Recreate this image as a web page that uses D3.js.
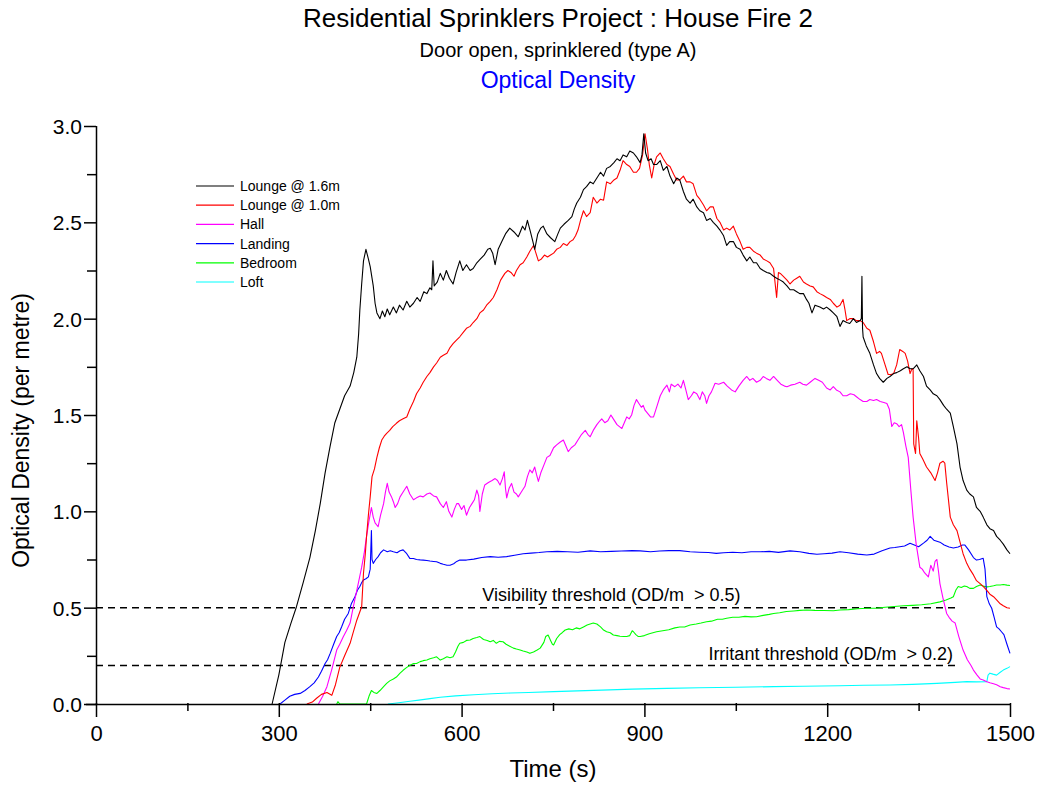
<!DOCTYPE html>
<html lang="en">
<head>
  <meta charset="UTF-8" />
  <title>Residential Sprinklers Project : House Fire 2</title>
  <script src="https://d3js.org/d3.v7.min.js"></script>
  <style>
    body {
      margin: 0;
      padding: 0;
      background: #fff;
      font-family: Arial, "Liberation Sans", sans-serif;
    }
    svg {
      display: block;
    }
    .axis path, .axis line {
      stroke: #000;
      stroke-width: 1.5;
    }
    .axis text {
      font-family: Arial, "Liberation Sans", sans-serif;
      fill: #000;
    }
    .thr-label {
      white-space: pre;
    }
  </style>
</head>
<body>
  <svg width="1044" height="785"></svg>

  <script>
    // readings taken off the original plot : [time (s), OD (per metre)]
    const lounge16 = [[289,0],[300,0.15],[310,0.32],[320,0.42],[329,0.505],[340,0.63],[351,0.76],[360,0.9],[368,1.04],[376,1.2],[384,1.335],[392,1.46],[400,1.53],[408,1.6],[417,1.65],[423,1.72],[428,1.80],[431,1.92],[433,2.045],[436,2.18],[439,2.30],[443,2.36],[447,2.31],[450,2.27],[455,2.17],[458,2.08],[461,2.03],[466,2.00],[470,2.04],[474,2.01],[478,2.05],[482,2.02],[488,2.06],[493,2.03],[498,2.07],[504,2.045],[510,2.09],[515,2.06],[521,2.08],[527,2.11],[532,2.09],[538,2.14],[543,2.13],[548,2.16],[551,2.15],[553,2.30],[555,2.17],[560,2.19],[565,2.235],[570,2.2],[575,2.25],[580,2.21],[586,2.18],[591,2.24],[597,2.30],[602,2.25],[608,2.28],[614,2.25],[619,2.26],[625,2.29],[631,2.31],[637,2.33],[643,2.36],[647,2.365],[651,2.34],[655,2.28],[660,2.36],[666,2.40],[672,2.44],[679,2.47],[686,2.45],[693,2.425],[700,2.48],[704,2.46],[708,2.51],[713,2.45],[717,2.40],[720,2.36],[725,2.44],[730,2.47],[734,2.48],[740,2.44],[746,2.42],[753,2.40],[758,2.44],[762,2.47],[768,2.49],[775,2.51],[781,2.53],[785,2.57],[789,2.60],[795,2.63],[800,2.67],[805,2.685],[811,2.71],[816,2.70],[822,2.73],[828,2.76],[833,2.74],[838,2.78],[844,2.79],[850,2.81],[855,2.83],[860,2.82],[865,2.85],[871,2.84],[876,2.87],[882,2.86],[887,2.84],[893,2.81],[896,2.85],[899,2.96],[902,2.86],[906,2.82],[911,2.83],[915,2.80],[920,2.80],[926,2.82],[931,2.77],[937,2.79],[942,2.74],[948,2.70],[953,2.73],[958,2.72],[964,2.66],[969,2.62],[975,2.60],[980,2.62],[986,2.58],[991,2.56],[997,2.55],[1002,2.51],[1008,2.52],[1013,2.50],[1019,2.48],[1024,2.46],[1030,2.43],[1035,2.38],[1040,2.40],[1046,2.40],[1051,2.37],[1057,2.36],[1062,2.33],[1068,2.30],[1073,2.32],[1079,2.29],[1084,2.29],[1090,2.26],[1095,2.25],[1101,2.24],[1106,2.235],[1112,2.22],[1117,2.21],[1123,2.20],[1128,2.19],[1134,2.17],[1139,2.15],[1145,2.15],[1150,2.14],[1155,2.13],[1161,2.13],[1166,2.10],[1170,2.08],[1175,2.03],[1180,2.07],[1188,2.06],[1194,2.05],[1199,2.06],[1205,2.045],[1210,2.03],[1216,2.01],[1221,1.96],[1226,1.99],[1232,1.98],[1237,1.975],[1243,2.0],[1248,1.98],[1254,1.99],[1256,2.00],[1257,2.22],[1258,1.95],[1259,1.905],[1264,1.86],[1270,1.82],[1276,1.76],[1281,1.715],[1286,1.69],[1292,1.67],[1298,1.69],[1303,1.70],[1309,1.715],[1314,1.72],[1320,1.73],[1325,1.74],[1331,1.75],[1336,1.74],[1341,1.74],[1347,1.76],[1352,1.73],[1358,1.70],[1363,1.65],[1369,1.63],[1374,1.61],[1380,1.60],[1385,1.58],[1391,1.55],[1396,1.53],[1402,1.51],[1407,1.44],[1413,1.35],[1418,1.23],[1423,1.16],[1429,1.11],[1434,1.09],[1440,1.075],[1445,1.02],[1451,1.0],[1456,0.97],[1462,0.93],[1467,0.91],[1473,0.90],[1478,0.87],[1484,0.85],[1489,0.83],[1495,0.80],[1500,0.78]];

    const lounge10 = [[346,0],[355,0.01],[362,0.03],[370,0.05],[379,0.06],[387,0.045],[393,0.10],[400,0.19],[408,0.25],[417,0.315],[422,0.37],[428,0.435],[432,0.47],[436,0.505],[439,0.68],[442,0.78],[444,0.87],[447,0.98],[450,1.075],[453,1.18],[457,1.22],[461,1.28],[465,1.33],[469,1.37],[473,1.39],[477,1.405],[482,1.42],[487,1.44],[493,1.457],[498,1.47],[504,1.48],[510,1.49],[515,1.53],[521,1.57],[526,1.61],[532,1.64],[537,1.67],[543,1.70],[548,1.72],[554,1.75],[559,1.77],[565,1.80],[570,1.81],[576,1.82],[581,1.85],[586,1.87],[592,1.89],[597,1.906],[603,1.93],[608,1.95],[614,1.96],[619,1.98],[625,2.0],[630,2.03],[636,2.045],[641,2.07],[647,2.09],[652,2.11],[658,2.15],[664,2.2],[671,2.235],[676,2.25],[681,2.24],[686,2.22],[690,2.25],[696,2.28],[701,2.29],[707,2.32],[712,2.35],[718,2.38],[722,2.34],[726,2.30],[731,2.31],[736,2.33],[741,2.32],[746,2.33],[751,2.34],[756,2.36],[762,2.37],[767,2.39],[773,2.38],[778,2.40],[783,2.41],[787,2.43],[791,2.46],[796,2.52],[800,2.56],[805,2.53],[811,2.55],[816,2.63],[822,2.60],[828,2.62],[833,2.615],[838,2.71],[844,2.70],[850,2.72],[855,2.73],[860,2.77],[865,2.82],[871,2.80],[876,2.79],[882,2.76],[887,2.76],[892,2.78],[897,2.85],[901,2.96],[905,2.88],[908,2.80],[912,2.73],[916,2.80],[920,2.84],[926,2.86],[931,2.83],[937,2.80],[942,2.79],[948,2.75],[953,2.72],[958,2.72],[964,2.74],[969,2.71],[975,2.71],[980,2.70],[986,2.64],[991,2.62],[997,2.59],[1002,2.56],[1008,2.58],[1013,2.58],[1019,2.52],[1024,2.50],[1030,2.46],[1035,2.47],[1040,2.46],[1046,2.48],[1051,2.44],[1057,2.40],[1062,2.36],[1068,2.37],[1073,2.37],[1079,2.35],[1084,2.34],[1090,2.33],[1095,2.31],[1101,2.30],[1106,2.29],[1112,2.26],[1117,2.11],[1120,2.24],[1123,2.235],[1128,2.22],[1134,2.20],[1139,2.18],[1145,2.20],[1150,2.21],[1155,2.22],[1161,2.19],[1166,2.18],[1172,2.17],[1177,2.165],[1183,2.14],[1188,2.13],[1194,2.12],[1199,2.11],[1205,2.10],[1210,2.08],[1216,2.06],[1221,2.07],[1226,2.10],[1229,2.05],[1232,1.99],[1237,2.0],[1243,2.0],[1248,1.99],[1254,1.99],[1259,1.98],[1265,1.95],[1270,1.94],[1276,1.88],[1281,1.82],[1286,1.83],[1289,1.82],[1295,1.76],[1300,1.71],[1305,1.71],[1309,1.715],[1314,1.76],[1319,1.84],[1324,1.83],[1328,1.82],[1332,1.78],[1336,1.715],[1339,1.74],[1341,1.735],[1342,1.35],[1345,1.30],[1347,1.47],[1350,1.38],[1352,1.30],[1357,1.27],[1363,1.23],[1370,1.20],[1377,1.16],[1381,1.20],[1385,1.25],[1390,1.26],[1393,1.25],[1396,1.15],[1402,0.97],[1407,0.93],[1413,0.90],[1418,0.84],[1423,0.78],[1429,0.73],[1434,0.70],[1440,0.67],[1445,0.64],[1451,0.625],[1456,0.61],[1462,0.59],[1467,0.57],[1473,0.557],[1478,0.54],[1484,0.52],[1489,0.51],[1495,0.50],[1500,0.497]];

    const hall = [[365,0],[372,0.04],[379,0.09],[387,0.18],[395,0.28],[400,0.31],[406,0.35],[411,0.38],[417,0.42],[422,0.50],[428,0.59],[432,0.65],[436,0.71],[440,0.78],[444,0.87],[448,0.95],[452,1.02],[455,0.97],[458,0.94],[463,0.92],[467,0.98],[472,1.04],[475,1.10],[478,1.145],[481,1.10],[485,1.075],[488,1.05],[491,1.02],[495,1.04],[499,1.075],[504,1.10],[510,1.13],[515,1.09],[521,1.06],[526,1.07],[532,1.08],[537,1.075],[543,1.09],[548,1.095],[554,1.08],[559,1.075],[565,1.04],[570,1.02],[575,1.05],[579,1.00],[584,0.97],[588,1.01],[592,1.04],[595,1.04],[600,1.01],[604,1.03],[608,0.98],[613,1.02],[617,1.04],[621,1.06],[625,1.11],[628,1.08],[630,1.00],[634,1.09],[638,1.137],[644,1.15],[650,1.16],[655,1.17],[659,1.16],[663,1.137],[667,1.17],[670,1.205],[672,1.12],[674,1.07],[678,1.12],[682,1.145],[686,1.10],[690,1.09],[693,1.075],[698,1.10],[704,1.13],[708,1.18],[712,1.215],[716,1.20],[720,1.23],[723,1.19],[726,1.155],[730,1.20],[735,1.24],[740,1.28],[745,1.29],[751,1.33],[756,1.345],[762,1.36],[767,1.37],[771,1.34],[775,1.31],[780,1.33],[786,1.345],[791,1.37],[797,1.40],[803,1.42],[807,1.40],[811,1.387],[816,1.42],[822,1.45],[827,1.47],[830,1.48],[835,1.46],[840,1.47],[845,1.50],[849,1.48],[855,1.45],[859,1.44],[863,1.43],[867,1.46],[871,1.49],[875,1.48],[879,1.50],[883,1.55],[887,1.58],[891,1.56],[895,1.54],[898,1.55],[901,1.525],[905,1.51],[910,1.49],[915,1.49],[920,1.54],[926,1.60],[931,1.63],[937,1.655],[941,1.62],[944,1.66],[950,1.647],[955,1.66],[960,1.64],[964,1.68],[968,1.63],[972,1.58],[977,1.60],[981,1.62],[986,1.61],[991,1.58],[995,1.62],[999,1.60],[1002,1.56],[1006,1.60],[1010,1.62],[1016,1.665],[1022,1.66],[1030,1.67],[1036,1.65],[1043,1.63],[1049,1.62],[1055,1.65],[1062,1.68],[1068,1.70],[1073,1.68],[1078,1.69],[1084,1.67],[1090,1.68],[1095,1.70],[1100,1.69],[1106,1.68],[1112,1.70],[1118,1.68],[1124,1.66],[1130,1.65],[1134,1.647],[1140,1.655],[1147,1.66],[1155,1.67],[1160,1.66],[1166,1.655],[1172,1.67],[1180,1.69],[1186,1.68],[1192,1.67],[1199,1.64],[1205,1.63],[1210,1.647],[1215,1.63],[1221,1.62],[1226,1.60],[1232,1.60],[1238,1.61],[1244,1.605],[1248,1.595],[1254,1.58],[1259,1.57],[1265,1.57],[1270,1.58],[1276,1.575],[1281,1.58],[1287,1.57],[1293,1.565],[1298,1.56],[1302,1.53],[1306,1.44],[1310,1.46],[1314,1.455],[1318,1.44],[1322,1.45],[1325,1.41],[1329,1.34],[1333,1.28],[1337,1.12],[1341,0.97],[1346,0.83],[1352,0.71],[1356,0.70],[1360,0.68],[1366,0.66],[1370,0.72],[1374,0.69],[1377,0.74],[1380,0.75],[1383,0.68],[1385,0.625],[1390,0.55],[1396,0.47],[1400,0.45],[1405,0.43],[1410,0.42],[1416,0.35],[1423,0.28],[1430,0.23],[1436,0.20],[1440,0.176],[1446,0.15],[1451,0.13],[1456,0.125],[1462,0.115],[1467,0.11],[1473,0.105],[1478,0.10],[1484,0.09],[1489,0.085],[1495,0.08],[1500,0.078]];

    const landing = [[302,0],[310,0.02],[318,0.04],[326,0.05],[335,0.055],[343,0.07],[351,0.09],[358,0.11],[365,0.14],[370,0.17],[376,0.21],[380,0.23],[384,0.26],[390,0.31],[395,0.35],[399,0.37],[403,0.40],[408,0.44],[414,0.47],[419,0.52],[425,0.557],[429,0.59],[433,0.61],[436,0.63],[439,0.644],[443,0.65],[447,0.66],[450,0.70],[452,0.90],[453,0.75],[455,0.73],[459,0.75],[463,0.765],[467,0.785],[472,0.80],[478,0.79],[483,0.795],[488,0.79],[494,0.785],[499,0.795],[504,0.80],[510,0.78],[515,0.756],[521,0.755],[526,0.75],[532,0.748],[537,0.747],[543,0.745],[548,0.742],[554,0.74],[559,0.738],[565,0.73],[570,0.725],[576,0.72],[581,0.72],[587,0.728],[592,0.74],[597,0.747],[608,0.747],[620,0.752],[633,0.76],[647,0.765],[660,0.762],[674,0.765],[687,0.772],[701,0.78],[714,0.783],[727,0.786],[740,0.79],[757,0.792],[774,0.79],[791,0.788],[811,0.795],[828,0.79],[846,0.792],[862,0.794],[880,0.796],[893,0.795],[910,0.79],[925,0.794],[940,0.796],[958,0.796],[975,0.79],[990,0.788],[1005,0.786],[1018,0.782],[1030,0.785],[1045,0.788],[1060,0.785],[1075,0.79],[1090,0.79],[1105,0.792],[1120,0.787],[1139,0.795],[1155,0.79],[1170,0.782],[1183,0.777],[1195,0.78],[1208,0.783],[1221,0.79],[1235,0.785],[1250,0.778],[1265,0.773],[1277,0.778],[1290,0.795],[1303,0.81],[1311,0.812],[1319,0.816],[1327,0.82],[1336,0.834],[1343,0.825],[1350,0.816],[1358,0.835],[1364,0.85],[1369,0.87],[1375,0.85],[1380,0.845],[1385,0.84],[1392,0.825],[1400,0.815],[1407,0.81],[1415,0.815],[1422,0.825],[1426,0.825],[1432,0.80],[1440,0.76],[1445,0.747],[1450,0.75],[1456,0.756],[1459,0.70],[1462,0.557],[1466,0.52],[1470,0.497],[1474,0.45],[1478,0.40],[1482,0.39],[1486,0.375],[1490,0.36],[1495,0.31],[1500,0.263]];

    const bedroom = [[395,0],[397,0.012],[400,0],[444,0],[448,0.04],[452,0.07],[456,0.06],[461,0.055],[466,0.07],[472,0.09],[477,0.107],[482,0.12],[488,0.13],[493,0.14],[499,0.16],[504,0.175],[510,0.19],[515,0.20],[521,0.21],[526,0.21],[532,0.22],[537,0.225],[543,0.228],[548,0.235],[554,0.24],[559,0.245],[565,0.228],[570,0.235],[576,0.245],[581,0.24],[586,0.245],[590,0.27],[594,0.30],[597,0.315],[603,0.32],[608,0.33],[614,0.332],[619,0.34],[625,0.345],[630,0.35],[636,0.335],[642,0.33],[647,0.323],[652,0.33],[657,0.315],[662,0.325],[668,0.323],[673,0.31],[679,0.30],[685,0.29],[690,0.285],[696,0.28],[701,0.275],[707,0.27],[712,0.263],[718,0.27],[724,0.28],[729,0.29],[735,0.32],[738,0.35],[742,0.358],[746,0.33],[749,0.31],[751,0.306],[756,0.34],[761,0.36],[765,0.37],[770,0.384],[776,0.39],[782,0.385],[788,0.395],[794,0.39],[800,0.40],[806,0.41],[811,0.415],[816,0.42],[822,0.415],[828,0.40],[833,0.384],[838,0.375],[844,0.37],[849,0.358],[855,0.355],[860,0.352],[866,0.35],[871,0.35],[876,0.355],[880,0.38],[882,0.375],[886,0.36],[890,0.35],[893,0.35],[900,0.355],[908,0.365],[914,0.37],[920,0.375],[930,0.38],[940,0.385],[950,0.395],[958,0.40],[966,0.40],[975,0.41],[985,0.415],[993,0.42],[1002,0.427],[1010,0.43],[1020,0.44],[1028,0.44],[1035,0.445],[1045,0.45],[1055,0.45],[1065,0.455],[1075,0.452],[1084,0.453],[1095,0.46],[1105,0.465],[1112,0.47],[1122,0.474],[1133,0.48],[1145,0.483],[1155,0.486],[1166,0.488],[1180,0.486],[1195,0.485],[1210,0.484],[1221,0.488],[1235,0.49],[1250,0.494],[1265,0.497],[1280,0.497],[1295,0.502],[1310,0.506],[1325,0.51],[1340,0.512],[1355,0.515],[1370,0.52],[1385,0.53],[1395,0.54],[1403,0.55],[1407,0.557],[1411,0.59],[1415,0.61],[1420,0.605],[1425,0.612],[1429,0.61],[1434,0.60],[1440,0.60],[1445,0.61],[1451,0.618],[1456,0.612],[1462,0.608],[1467,0.61],[1473,0.614],[1478,0.618],[1484,0.618],[1489,0.62],[1495,0.617],[1500,0.615]];

    const loft = [[479,0],[490,0.004],[500,0.008],[515,0.014],[530,0.02],[548,0.028],[565,0.035],[590,0.042],[620,0.048],[650,0.053],[680,0.057],[710,0.06],[751,0.064],[790,0.068],[830,0.072],[880,0.077],[937,0.081],[990,0.084],[1050,0.087],[1112,0.09],[1160,0.092],[1221,0.095],[1260,0.097],[1303,0.099],[1340,0.102],[1380,0.107],[1410,0.112],[1429,0.116],[1445,0.115],[1462,0.116],[1464,0.15],[1467,0.16],[1472,0.155],[1478,0.15],[1484,0.165],[1489,0.176],[1495,0.185],[1500,0.194]];

    const seriesNames = ["Lounge @ 1.6m", "Lounge @ 1.0m", "Hall", "Landing", "Bedroom", "Loft"];
    const seriesData = [lounge16, lounge10, hall, landing, bedroom, loft];
    const seriesColors = ["#000000", "#ff0000", "#ff00ff", "#0000ff", "#00ff00", "#00ffff"];

    const thresholdValues = [0.5, 0.2];
    const thresholdLabels = ["Visibility threshold (OD/m  > 0.5)", "Irritant threshold (OD/m  > 0.2)"];

    const xTicks = [0, 300, 600, 900, 1200, 1500];
    const yTicks = [0, 0.5, 1.0, 1.5, 2.0, 2.5, 3.0];

    const svg = d3.select("svg");

    const x = d3.scaleLinear().domain([0, 1500]).range([96, 1010]);
    const y = d3.scaleLinear().domain([0, 3]).range([704, 126]);

    // titles
    const cx = 558;
    svg.append("text").attr("x", cx).attr("y", 27).attr("text-anchor", "middle")
      .attr("font-size", "26px").text("Residential Sprinklers Project : House Fire 2");
    svg.append("text").attr("x", cx).attr("y", 57).attr("text-anchor", "middle")
      .attr("font-size", "20px").text("Door open, sprinklered (type A)");
    svg.append("text").attr("x", cx).attr("y", 88).attr("text-anchor", "middle")
      .attr("font-size", "23px").attr("fill", "#0000ff").text("Optical Density");

    // threshold lines
    const thr = svg.append("g");
    thresholdValues.forEach(v => {
      thr.append("line")
        .attr("x1", x(0)).attr("x2", x(1410))
        .attr("y1", y(v)).attr("y2", y(v))
        .attr("stroke", "#000").attr("stroke-width", 1.5)
        .attr("stroke-dasharray", "7,5");
    });
    thr.append("text").attr("class", "thr-label").attr("x", x(634)).attr("y", y(0.5) - 7)
      .attr("font-size", "18px").text(thresholdLabels[0]);
    thr.append("text").attr("class", "thr-label").attr("x", x(1005)).attr("y", y(0.2) - 5)
      .attr("font-size", "18px").text(thresholdLabels[1]);

    // series
    const line = d3.line().x(d => x(d[0])).y(d => y(d[1]));
    const plot = svg.append("g");
    // lower series first so the lounge traces sit on top
    d3.range(seriesData.length).reverse().forEach(i => {
      plot.append("path")
        .datum(seriesData[i])
        .attr("fill", "none")
        .attr("stroke", seriesColors[i])
        .attr("stroke-width", 1.1)
        .attr("stroke-linejoin", "round")
        .attr("d", line);
    });

    // axes
    const xAxis = svg.append("g").attr("class", "axis")
      .attr("transform", `translate(0,${y(0)})`);
    xAxis.call(d3.axisBottom(x).tickValues(d3.range(0, 1501, 150)).tickSize(7).tickFormat(""));
    xAxis.call(g => g.selectAll(".tick line").attr("y1", -1));
    xAxis.selectAll(".tick").filter(d => xTicks.includes(d)).select("line").attr("y2", 13);
    xAxis.selectAll(".tick").filter(d => xTicks.includes(d)).append("text")
      .attr("y", 37).attr("fill", "#000").attr("font-size", "22px")
      .attr("text-anchor", "middle").text(d => d);
    xAxis.select(".domain").attr("d", `M${x(0) - 10},0.5H${x(1500)}`);

    const yAxis = svg.append("g").attr("class", "axis")
      .attr("transform", `translate(${x(0)},0)`);
    yAxis.call(d3.axisLeft(y).tickValues(d3.range(0, 3.01, 0.25)).tickSize(12).tickFormat(""));
    yAxis.selectAll(".tick").filter(d => !yTicks.some(t => Math.abs(t - d) < 1e-6)).select("line").attr("x2", -9);
    yAxis.selectAll(".tick").filter(d => yTicks.some(t => Math.abs(t - d) < 1e-6)).append("text")
      .attr("x", -14).attr("dy", "0.35em").attr("fill", "#000").attr("font-size", "21px")
      .attr("text-anchor", "end").text(d => d3.format(".1f")(d));
    yAxis.select(".domain").attr("d", `M0.5,${y(0)}V${y(3)}`);

    svg.append("text").attr("x", x(750)).attr("y", 777).attr("text-anchor", "middle")
      .attr("font-size", "24px").text("Time (s)");
    svg.append("text")
      .attr("transform", `translate(29,${y(1.42)}) rotate(-90)`)
      .attr("text-anchor", "middle").attr("font-size", "23px")
      .text("Optical Density (per metre)");

    // legend
    const legend = svg.append("g").attr("transform", "translate(196,186)");
    seriesNames.forEach((name, i) => {
      const row = legend.append("g").attr("transform", `translate(0,${i * 19.2})`);
      row.append("line").attr("x1", 0).attr("x2", 38).attr("y1", 0).attr("y2", 0)
        .attr("stroke", seriesColors[i]).attr("stroke-width", 1.2);
      row.append("text").attr("x", 44).attr("y", 0).attr("dy", "0.35em")
        .attr("font-size", "14px").text(name);
    });
  </script>
</body>
</html>
